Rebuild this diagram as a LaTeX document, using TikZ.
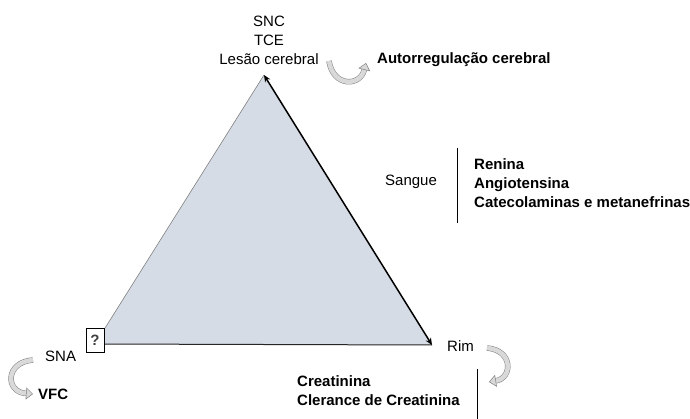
\documentclass[tikz,border=0pt]{standalone}
\usepackage{fontspec}
\setmainfont{Liberation Sans}
\usetikzlibrary{arrows.meta,positioning}
\definecolor{tri-fill}{HTML}{D6DCE5}
\definecolor{turn-fill}{HTML}{D9D9D9}
\definecolor{turn-line}{HTML}{7F7F7F}

\begin{document}
\begin{tikzpicture}[x=1pt, y=-1pt, font=\fontsize{15}{19}\selectfont,
    lbl/.style={inner sep=0pt, align=left},
    bold/.style={lbl, font=\fontsize{15}{19}\selectfont\bfseries},
    turn/.style={draw=turn-line, line width=0.5pt, double=turn-fill, double distance=4.5pt,
        -{Triangle[length=7pt, width=12pt, fill=turn-fill]}},
    bar/.style={line width=1pt}]
    \useasboundingbox (0,0) rectangle (690,419);

    % triangle
    \coordinate (top) at (264,75);
    \coordinate (sna) at (95,344);
    \coordinate (rim) at (432,345);
    \fill[tri-fill] (top) -- (sna) -- (rim) -- cycle;
    \draw[gray, line width=0.6pt] (top) -- (sna);
    \draw[black!85, line width=1pt] (sna) -- (rim);
    \draw[line width=1.5pt, {Stealth[length=7pt,width=6pt]}-{Stealth[length=7pt,width=6pt]}] (top) -- (rim);
    \node[draw, fill=white, minimum width=18pt, minimum height=24pt, inner sep=0pt, text=black!75, font=\fontsize{15}{19}\selectfont\bfseries] (q) at (95,340) {?};

    % top corner
    \node[lbl, align=center, anchor=south] (cns) at (269,65) {SNC\\TCE\\Lesão cerebral};
    \node[bold, anchor=base west] (auto) at (377,64) {Autorregulação cerebral};
    \draw[turn] (329,61) .. controls (333,87) and (360,87) .. (366,63);

    % right side
    \node[lbl, anchor=base west] (blood) at (385,186) {Sangue};
    \draw[bar] (457,148) -- (457,223);
    \node[bold, anchor=west] (markers) at (474,183) {Renina\\Angiotensina\\Catecolaminas e metanefrinas};

    % right corner
    \node[lbl, anchor=base west] (rimlbl) at (447,351) {Rim};
    \draw[turn] (487,348) .. controls (513,350) and (513,378) .. (489,382);
    \draw[bar] (477,369) -- (477,419);
    \node[bold, anchor=west] (renal) at (297,391) {Creatinina\\Clerance de Creatinina};

    % left corner
    \node[lbl, anchor=base west] (snalbl) at (45,361) {SNA};
    \draw[turn] (33,360) .. controls (5,362) and (5,392) .. (33,394);
    \node[bold, anchor=base west] (vfc) at (38,399) {VFC};
\end{tikzpicture}
\end{document}
